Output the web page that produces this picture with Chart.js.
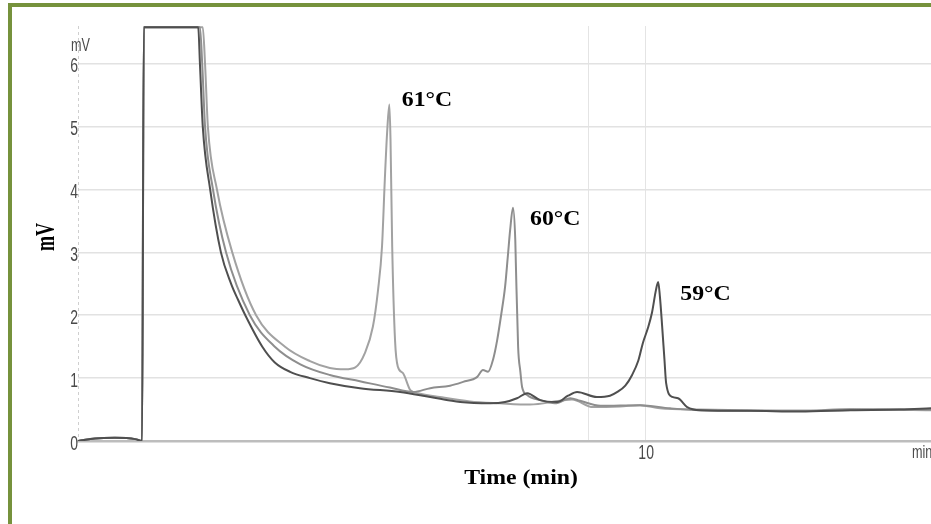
<!DOCTYPE html>
<html>
<head>
<meta charset="utf-8">
<script src="https://cdn.jsdelivr.net/npm/chart.js@4.4.1/dist/chart.umd.min.js"></script>
<style>
  html, body { margin: 0; padding: 0; background: #fff; overflow: hidden; }
  #wrap { position: relative; width: 931px; height: 524px; }
  #frame { position: absolute; left: 8px; top: 3px; right: -10px; bottom: -10px;
           border-top: 4px solid #76923c; border-left: 4px solid #76923c; pointer-events: none; }
</style>
</head>
<body>
<div id="wrap">
  <canvas id="chrom" width="931" height="524"></canvas>
  <div id="frame"></div>
</div>
<script>
// Chromatogram traces (time in min, signal in mV)
const times59 = [0, 0.30, 0.65, 1.01, 1.13, 1.16, 2.12, 2.15, 2.20, 2.33, 2.52, 2.70, 2.82, 2.95, 3.25, 3.47, 3.74, 4.09, 4.44, 4.97, 5.68, 6.21, 6.74, 7.27, 7.53, 7.74, 7.92, 8.15, 8.45, 8.64, 8.80, 9.15, 9.38, 9.51, 9.65, 9.77, 9.88, 9.96, 10.05, 10.12, 10.19, 10.23, 10.26, 10.30, 10.34, 10.37, 10.48, 10.58, 10.74, 10.97, 11.85, 12.73, 13.62, 14.50, 15.04];
const mv59    = [0, 0.04, 0.05, 0.03, 0.00, 6.58, 6.58, 6.0, 5.0, 4.0, 3.0, 2.5, 2.25, 2.0, 1.5, 1.25, 1.1, 1.0, 0.92, 0.84, 0.78, 0.70, 0.62, 0.60, 0.62, 0.68, 0.76, 0.65, 0.62, 0.72, 0.78, 0.70, 0.72, 0.78, 0.88, 1.05, 1.28, 1.56, 1.80, 2.04, 2.40, 2.53, 2.30, 1.82, 1.30, 0.92, 0.70, 0.68, 0.54, 0.49, 0.48, 0.47, 0.49, 0.50, 0.52];

const times60 = [0, 0.30, 0.65, 1.01, 1.13, 1.16, 2.15, 2.19, 2.24, 2.38, 2.61, 3.03, 3.47, 3.92, 4.44, 4.97, 5.50, 5.91, 6.21, 6.56, 6.79, 7.04, 7.14, 7.23, 7.32, 7.39, 7.46, 7.53, 7.58, 7.62, 7.67, 7.71, 7.72, 7.76, 7.80, 7.83, 7.92, 8.15, 8.41, 8.68, 8.85, 9.21, 9.91, 10.44, 10.97, 12.73, 14.14, 15.04];
const mv60    = [0, 0.04, 0.05, 0.03, 0.00, 6.58, 6.58, 6.0, 5.0, 4.0, 3.0, 2.0, 1.5, 1.22, 1.05, 0.95, 0.85, 0.78, 0.84, 0.88, 0.94, 1.02, 1.13, 1.10, 1.30, 1.60, 2.00, 2.45, 2.95, 3.36, 3.71, 3.20, 2.83, 1.50, 1.10, 0.86, 0.73, 0.65, 0.60, 0.68, 0.64, 0.56, 0.57, 0.52, 0.49, 0.48, 0.50, 0.50];

const times61 = [0, 0.30, 0.65, 1.01, 1.13, 1.16, 2.20, 2.24, 2.29, 2.45, 2.72, 3.14, 3.65, 4.09, 4.44, 4.71, 4.89, 5.06, 5.20, 5.29, 5.36, 5.41, 5.45, 5.49, 5.51, 5.54, 5.59, 5.64, 5.73, 5.86, 6.00, 6.38, 6.91, 7.44, 7.97, 8.50, 8.71, 9.08, 9.56, 9.91, 10.26, 10.97, 12.73, 13.62, 15.04];
const mv61    = [0, 0.04, 0.05, 0.03, 0.00, 6.58, 6.58, 6.0, 5.0, 4.0, 3.0, 2.0, 1.5, 1.27, 1.16, 1.14, 1.17, 1.40, 1.82, 2.40, 3.09, 4.16, 4.90, 5.35, 4.80, 3.09, 1.60, 1.18, 1.08, 0.81, 0.76, 0.70, 0.63, 0.60, 0.58, 0.64, 0.66, 0.54, 0.55, 0.57, 0.52, 0.50, 0.48, 0.51, 0.49];

const yTicks = [0, 1, 2, 3, 4, 5, 6];
const xGridTimes = [9, 10];
const xLabelTimes = [10];

const seriesNames = ['59°C', '60°C', '61°C'];

const toPoints = (ts, vs) => ts.map((t, i) => ({ x: t, y: vs[i] }));

const sansFamily = '"Liberation Sans", Arial, sans-serif';
const serifBold = 'bold 22px "Liberation Serif", "Times New Roman", serif';

// schmale Schrift: horizontal gestaucht zeichnen
function narrowText(ctx, txt, x, y, align) {
  ctx.save();
  ctx.translate(x, y);
  ctx.scale(0.7, 1);
  ctx.textAlign = align;
  ctx.fillText(txt, 0, 0);
  ctx.restore();
}

// Texte: Achsentitel, Einheiten, Tick-Beschriftungen und Peak-Beschriftungen
const textPlugin = {
  id: 'texts',
  beforeDatasetsDraw(chart) {
    // gestrichelte y-Achsenlinie
    const ctx = chart.ctx, a = chart.chartArea;
    ctx.save();
    ctx.strokeStyle = '#cfcfcf';
    ctx.lineWidth = 1;
    ctx.setLineDash([3, 3]);
    ctx.beginPath();
    ctx.moveTo(a.left + 0.5, a.top);
    ctx.lineTo(a.left + 0.5, a.bottom);
    ctx.stroke();
    ctx.restore();
  },
  afterDraw(chart) {
    const ctx = chart.ctx;
    const xs = chart.scales.x, ys = chart.scales.y;
    ctx.save();
    ctx.fillStyle = '#4a4a4a';
    ctx.font = '20px ' + sansFamily;
    ctx.textBaseline = 'middle';
    ys.ticks.forEach(t => narrowText(ctx, String(t.value), 78, ys.getPixelForValue(t.value) + 3, 'right'));
    xs.ticks.filter(t => xLabelTimes.includes(t.value))
      .forEach(t => narrowText(ctx, String(t.value), xs.getPixelForValue(t.value) + 1, 453, 'center'));
    ctx.font = '18px ' + sansFamily;
    narrowText(ctx, 'mV', 71, 46, 'left');
    narrowText(ctx, 'min', 912, 453, 'left');

    ctx.fillStyle = '#000';
    ctx.font = serifBold;
    ctx.textBaseline = 'alphabetic';

    // x title
    ctx.save();
    ctx.translate(521, 484);
    ctx.scale(1.08, 1);
    ctx.textAlign = 'center';
    ctx.fillText('Time (min)', 0, 0);
    ctx.restore();

    // y title
    ctx.save();
    ctx.translate(47, 237);
    ctx.rotate(-Math.PI / 2);
    ctx.scale(0.82, 1.25);
    ctx.textAlign = 'center';
    ctx.textBaseline = 'middle';
    ctx.fillText('mV', 0, 0);
    ctx.restore();

    // peak labels, anchored in data coordinates
    const anchors = [[10.62, 2.25], [7.97, 3.44], [5.71, 5.33]];
    seriesNames.forEach((name, i) => {
      ctx.save();
      ctx.translate(xs.getPixelForValue(anchors[i][0]), ys.getPixelForValue(anchors[i][1]));
      ctx.scale(1.08, 1);
      ctx.textAlign = 'left';
      ctx.fillText(name, 0, 0);
      ctx.restore();
    });
    ctx.restore();
  }
};

new Chart(document.getElementById('chrom'), {
  type: 'line',
  data: {
    datasets: [
      { label: seriesNames[0], data: toPoints(times59, mv59), borderColor: '#4f4f4f', borderWidth: 2 },
      { label: seriesNames[1], data: toPoints(times60, mv60), borderColor: '#8e8e8e', borderWidth: 2 },
      { label: seriesNames[2], data: toPoints(times61, mv61), borderColor: '#a2a2a2', borderWidth: 2 }
    ]
  },
  options: {
    responsive: false,
    animation: false,
    layout: { padding: { top: 26, left: 0, right: 0, bottom: 0 } },
    elements: {
      point: { radius: 0 },
      line: { cubicInterpolationMode: 'monotone', fill: false }
    },
    plugins: { legend: { display: false }, tooltip: { enabled: false } },
    scales: {
      x: {
        type: 'linear',
        min: 0,
        max: 15.04,
        afterFit: s => { s.height = 83; },
        afterBuildTicks: s => { s.ticks = xGridTimes.map(v => ({ value: v })); },
        ticks: { display: false },
        grid: { color: '#e4e4e4', lineWidth: 1, drawTicks: false },
        border: { color: '#bdbdbd', width: 2.5 }
      },
      y: {
        min: 0,
        max: 6.6,
        afterFit: s => { s.width = 78; },
        afterBuildTicks: s => { s.ticks = yTicks.map(v => ({ value: v })); },
        ticks: { display: false },
        grid: { color: '#e2e2e2', lineWidth: 1.5, drawTicks: false },
        border: { display: false }
      }
    }
  },
  plugins: [textPlugin]
});
</script>
</body>
</html>
